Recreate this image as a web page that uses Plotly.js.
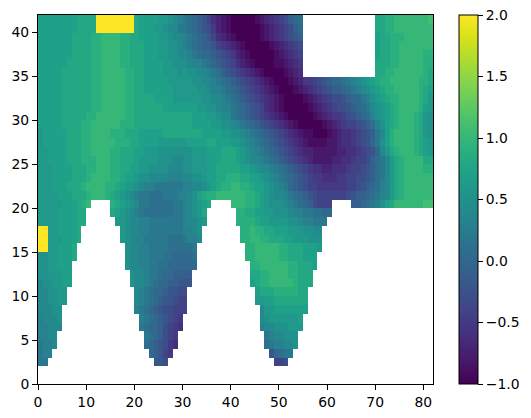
<!DOCTYPE html>
<html><head><meta charset="utf-8">
<script src="https://cdn.plot.ly/plotly-3.0.1.min.js"></script>
<style>html,body{margin:0;padding:0;background:#fff}</style></head>
<body><div id="chart" style="width:531px;height:418px"></div>
<script>
// One letter per cell. a=-1.0, b=-0.9 ... k=0 ... u=1.0, v=1.1, E=2.0, '.' = masked. Rows listed from y=41 down to y=0.
const LETTERS = "abcdefghijklmnopqrstuvwxyzABCDE";
const cellRows = [
"rrrrrrrrss ssEEEEEEEE srrrrqqpon mlkjigedcb aaaaabcdef ghjkl..... .......... ssttuuuuuu uv",
"rrrrrrrrss ssEEEEEEEE srrrqqpoom mlkjihfdcb aaaaaabcde fghjk..... .......... ssttuuuuuu uu",
"rrrrrrrsss sttuuuutts srrrrqqpoo nmlkjigedc baaaaabcde fghij..... .......... rsstttuuuu uu",
"rrrrrrrsss sttuuuutts ssrrrqqppo nmlkjjigfe dcbaaaaabc defgh..... .......... rssttuuuuu uu",
"rrrrrrrsss sttuuuutts ssrrrqqppo onmlkkjihg fdcbaaaaab cdefg..... .......... rssttuuuuu tt",
"rrrrrrssss sttuuuutts ssrrrrqqpp ponnmlkjih gedcbaaaab bcdef..... .......... sssttuuuuu tt",
"rrrrrsssss sttuuuuutt ssrrrrqqqp qppoonmlji hgfedcbaaa abcde..... .......... ssttuuuuuu ts",
"rrrrrsssss sttuuuuutt ssrrrrrqqq qqppoonmlk jihgfedcba aabcdffghi jkklmnopqr sttuuuuuut ts",
"rrrrrsssss sttuuuuutt ssrrrrrrqq qqqpponnml kjihgfedcb aaabcdefgh ijjklmnopq rsttuuuuut sr",
"rrrrrsssss sttuuuuutt ssssrrrrqq qqqqppoonm lkjihgfedc baaaabcdef ghhijkkmnp qrsttuuuut sq",
"rrrrrsssss sttuuuuutt ssssssrrrr rrrqqpponn mlkjihgedc baaaaabcde fghhijklmo pqrstuuuut rq",
"rrrrrsssss ttuuuuuutt ssssssssss ssrrrqqpoo mlkjihgfed cbaaaaabcd effghijkln pqrstuuuts qp",
"rrrrrsssst tuuuuuuttt ssssssssss ssrrrrqqpp onmlkjihgf edcbaaaaab cdefgghijl nprstuuuts qp",
"qrrrrrssst tuuuutttss srrrrrssss ssssrrrrqq pponmlkjih gfedcbbaaa bcdeefghij mortuuuuts qp",
"qrrrrrssst tuuuuuttts srrrrqqqqq qrrrrssrrr qqponmlkji hgfedcbbbb ccdeefghik mprtuuuuts rq",
"qqrrrrssst tuuuuttsss rrqqqppppp ppqqqrrrss srqponmlkj ihgfeddccc ccddeefghi koqstuuuts rq",
"qqrrrrssst ttuuuttsss rqqqqpppoo ppqqqrrrss srqpoonmlk jihgfedccc cddeefgghj lmoqstuuuu ss",
"qqqrrrrsss ttuuuttssr rqqppppooo ppqqqrrsss ssrrqpoonm lkjihgfeed deeefgghij lmoqstuuuu tt",
"qqqrrrrsss tuuuuttsrr qppoooonnn ooppqrrsst ttssrrqpon mlkjihgffe eeffgghhij lmoqstuuuu uu",
"qqqrrrssst uuuuttsrqq ponnmmmmmm nnoopqrstt uuttsrrqpo nmkjihggff ffffgghijk lnoqstuuuu uu",
"qqqqrrrsss tuuutsrqpo nmmlllmmmn noprsttuuu uuuttsrqpo onmlkjihgg gggghijjkl mnoqstuuuu uu",
"qqqqqrrrst u....tsrqp ommlllllmm nopqrs.... uuuttsrqpp ponmlkjhgg g....jjklm nprsuuuuuu vv",
"qqqqrrrrss .....srqpo nmllllllmm nopqs..... .ttssrrqqp pponnmmllk k......... .......... ..",
"qqqqrrrrss ......qqpo onnmmmmmmm noopq..... .ttttsrrqq qqpponnmmm .......... .......... ..",
"EEqqrrrrs. .......qpo onnmmmmmmm nnop...... ..ttuttssr rrqqqppoo. .......... .......... ..",
"EEqqqrrrs. .......qpo nnmmmmmlll mnno...... ..ttuuttss srrqqqppp. .......... .......... ..",
"EEqqrrrs.. ........po onnmmmmlll llm....... ...ttuuuuu ttsssrrrq. .......... .......... ..",
"ppqqrrrs.. ........po onnmmmllkk kkl....... ...ttuuuuu ttsssrrr.. .......... .......... ..",
"ppqqrrr... ........po onnmmllkkk kkk....... ....ttuuuu uuttsssr.. .......... .......... ..",
"ppqqqrr... .........p oonmmlkkjj jj........ ....ssttuu uuttsss... .......... .......... ..",
"oppqqrr... .........p oonmlkkjji ii........ ....rsttuu uuutsss... .......... .......... ..",
"ooppqq.... .......... onmlkkjiih h......... .....rssst ttttss.... .......... .......... ..",
"ooppqq.... .......... onmlkjiihg g......... .....qqrrs ssssss.... .......... .......... ..",
"ooopp..... .......... nmlkjihhgg g......... ......oqqr rrrrrr.... .......... .......... ..",
"nooop..... .......... .nmlkjihgf .......... ......opqq qqqqr..... .......... .......... ..",
"nnooo..... .......... .mlkkjhgfe .......... ......noop ppqqq..... .......... .......... ..",
"nnoo...... .......... ..mlkjhgf. .......... .......mno oppp...... .......... .......... ..",
"mnno...... .......... ..lkjihfe. .......... .......lmn noop...... .......... .......... ..",
"mnn....... .......... ...kjigf.. .......... ........ik lmm....... .......... .......... ..",
"mm........ .......... ....iih... .......... .........g gh........ .......... .......... ..",
".......... .......... .......... .......... .......... .......... .......... .......... ..",
".......... .......... .......... .......... .......... .......... .......... .......... .."
];
const xTicks = [0,10,20,30,40,50,60,70,80];
const yTicks = [0,5,10,15,20,25,30,35,40];
const barTicks = [-1,-0.5,0,0.5,1,1.5,2];

const z = cellRows.slice().reverse().map(r =>
  r.replace(/ /g,"").split("").map(c => c === "." ? null : -1 + LETTERS.indexOf(c) * 0.1));

const font = {family:"DejaVu Sans", size:13.9, color:"#000"};
const axis = {showgrid:false, zeroline:false, showline:true, mirror:true, linecolor:"#000", linewidth:1,
  ticks:"outside", ticklen:5, tickwidth:1, tickcolor:"#000", tickfont:font};

Plotly.newPlot("chart", [{
  type:"heatmap", z:z, x0:0.5, dx:1, y0:0.5, dy:1,
  colorscale:"Viridis", zmin:-1, zmax:2, hoverongaps:false,
  colorbar:{x:1+(459.3-434.5)/397, xanchor:"left", xpad:0, ypad:0, y:0.5, yanchor:"middle", len:1, lenmode:"fraction",
    thickness:19, thicknessmode:"pixels", outlinecolor:"#000", outlinewidth:1, borderwidth:0,
    tickmode:"array", tickvals:barTicks, ticktext:barTicks.map(v=>(v<0?"\u2212":"")+Math.abs(v).toFixed(1)),
    ticks:"outside", ticklen:5, tickwidth:1, tickcolor:"#000", tickfont:font}
}], Object.assign({
  width:531, height:418, margin:{l:37.5,r:96.5,t:15,b:34,pad:0},
  paper_bgcolor:"#fff", plot_bgcolor:"#fff", showlegend:false,
  xaxis:Object.assign({range:[0,82], tickmode:"array", tickvals:xTicks}, axis),
  yaxis:Object.assign({range:[0,42], tickmode:"array", tickvals:yTicks}, axis)
}), {displayModeBar:false, staticPlot:true});
</script></body></html>
